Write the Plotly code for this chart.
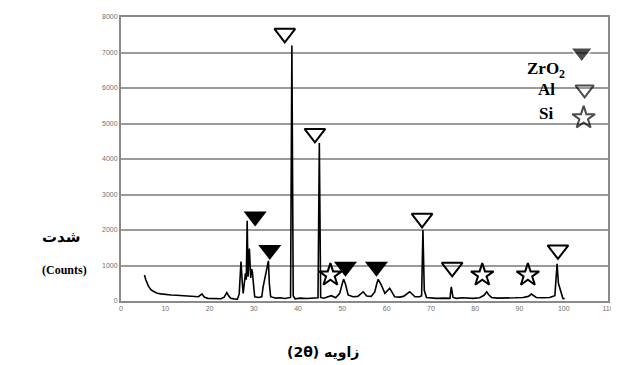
import plotly.graph_objects as go

# XRD pattern (2theta, counts)
two_theta = [5.3, 5.6, 6.2, 6.8, 7.5, 8.2, 9.0, 10.0, 11.3, 12.5, 14.3, 16.0, 17.5, 18.3, 18.8,
             19.6, 21.0, 22.6, 23.3, 23.9, 24.4, 24.8, 25.5, 26.3, 26.7, 27.1, 27.4, 27.6, 28.1,
             28.3, 28.5, 28.7, 29.0, 29.3, 29.5, 29.7, 29.9, 30.2, 31.0, 31.8, 32.1, 32.7, 33.0,
             33.3, 33.5, 33.8, 35.0, 36.0, 37.0, 38.3, 38.6, 38.9, 39.3, 40.5, 42.0, 43.5, 44.5,
             44.8, 45.1, 45.8, 46.8, 47.5, 48.5, 49.4, 50.0, 50.3, 50.7, 51.3, 52.4, 53.5, 54.7,
             55.5, 56.5, 57.3, 57.8, 58.1, 58.8, 59.6, 60.7, 61.8, 62.9, 63.8, 65.2, 66.4, 67.5,
             67.9, 68.2, 68.5, 69.0, 71.3, 73.0, 74.3, 74.6, 75.0, 75.8, 77.0, 79.5, 81.0, 82.0,
             82.6, 83.1, 83.7, 85.0, 87.1, 89.0, 90.8, 92.0, 92.7, 93.3, 93.8, 95.0, 96.8, 98.0,
             98.5, 98.8, 99.1, 99.5, 99.8, 100.2]
counts = [730, 600, 420, 310, 260, 220, 200, 180, 170, 160, 140, 130, 120, 200, 110,
          75, 70, 65, 110, 235, 130, 80, 60, 50, 200, 1110, 500, 215, 780,
          600, 2260, 685, 1480, 650, 900, 800, 500, 120, 100, 120, 400, 730, 900,
          1130, 500, 120, 80, 90, 70, 100, 7200, 150, 60, 80, 70, 90, 90,
          4450, 100, 80, 120, 150, 90, 215, 500, 610, 480, 170, 120, 130, 260,
          140, 130, 250, 500, 610, 450, 215, 360, 120, 110, 130, 260, 120, 120,
          150, 2000, 300, 100, 75, 80, 75, 400, 100, 75, 90, 75, 90, 160,
          260, 170, 100, 80, 75, 90, 100, 130, 195, 150, 100, 90, 100, 150,
          1050, 500, 360, 150, 75, 60]

# Phase markers
zro2_x = [30.3, 33.6, 50.7, 57.7]
zro2_y = [2380, 1440, 966, 966]
al_x = [37.0, 43.8, 68.0, 74.8, 98.7]
al_y = [7540, 4720, 2330, 950, 1440]
si_x = [47.3, 81.6, 91.9]
si_y = [730, 730, 730]

legend_names = ["ZrO<sub>2</sub>", "Al", "Si"]

x_ticks = list(range(0, 111, 10))
y_ticks = list(range(0, 8001, 1000))

fig = go.Figure()
fig.add_trace(go.Scatter(x=two_theta, y=counts, mode="lines",
                         line=dict(color="black", width=1.6), showlegend=False,
                         hoverinfo="skip"))
fig.add_trace(go.Scatter(x=zro2_x, y=zro2_y, mode="markers", showlegend=False,
                         marker=dict(symbol="triangle-down", size=20, color="black")))
fig.add_trace(go.Scatter(x=al_x, y=al_y, mode="markers", showlegend=False,
                         marker=dict(symbol="triangle-down-open", size=18, color="black",
                                     line=dict(width=2))))
fig.add_trace(go.Scatter(x=si_x, y=si_y, mode="markers", showlegend=False,
                         marker=dict(symbol="star-open", size=17, color="black",
                                     line=dict(width=2))))

# custom legend (symbols on an overlay paper-like axis)
fig.add_trace(go.Scatter(x=[0.946, 0.952, 0.950], y=[0.875, 0.745, 0.645],
                         xaxis="x2", yaxis="y2", mode="markers", showlegend=False,
                         marker=dict(symbol=["triangle-down", "triangle-down-open", "star-open"],
                                     size=[20, 16, 17], color="black", line=dict(width=2))))

fig.add_shape(type="rect", xref="paper", yref="paper", x0=0.78, x1=0.963, y0=0.58, y1=0.915,
              fillcolor="white", line=dict(width=0), layer="between")

legend_y = [0.815, 0.745, 0.66]
for name, ly in zip(legend_names, legend_y):
    fig.add_annotation(x=0.873, y=ly, xref="paper", yref="paper", text="<b>" + name + "</b>",
                       showarrow=False, xanchor="center", yanchor="middle",
                       font=dict(family="Liberation Serif", size=17, color="black"))

fig.add_annotation(x=-0.167, y=0.225, xref="paper", yref="paper", text="<b>شدت</b>",
                   showarrow=False, yanchor="middle",
                   font=dict(family="DejaVu Sans", size=15, color="black"))
fig.add_annotation(x=-0.167, y=0.11, xref="paper", yref="paper", text="<b>(Counts)</b>",
                   showarrow=False, yanchor="middle",
                   font=dict(family="Liberation Serif", size=12, color="black"))
fig.add_annotation(x=0.415, y=-0.18, xref="paper", yref="paper", text="<b>(2θ) زاویه</b>",
                   showarrow=False, yanchor="middle",
                   font=dict(family="DejaVu Sans", size=14, color="black"))

axis_common = dict(showline=True, linecolor="#8a8a8a", linewidth=2, mirror=True,
                   ticks="", tickfont=dict(family="Liberation Sans", size=7, color="#707070"),
                   zeroline=False, automargin=False)
fig.update_layout(
    width=611, height=357,
    margin=dict(l=113, r=11, t=9, b=64, autoexpand=False),
    paper_bgcolor="white", plot_bgcolor="white",
    xaxis=dict(range=[0, 110], tickvals=x_ticks, showgrid=False, **axis_common),
    yaxis=dict(range=[0, 8000], tickvals=y_ticks, showgrid=True, gridcolor="#9a9a9a",
               gridwidth=2, **axis_common),
    xaxis2=dict(overlaying="x", range=[0, 1], visible=False),
    yaxis2=dict(overlaying="y", range=[0, 1], visible=False),
)

fig.write_html("out.html")
